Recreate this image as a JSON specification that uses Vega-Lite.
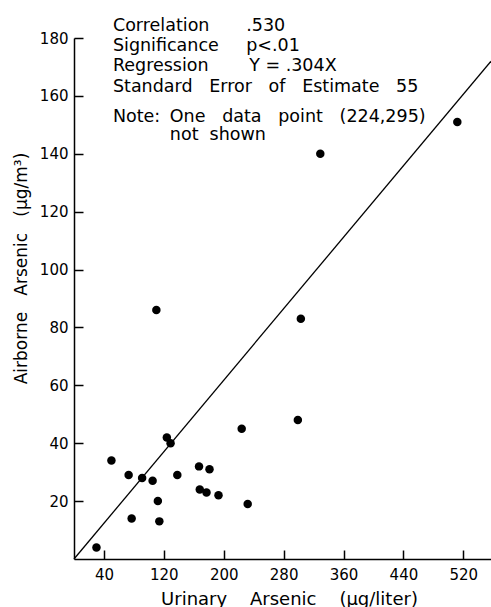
{
  "$schema": "https://vega.github.io/schema/vega-lite/v6.json",
  "width": 417,
  "height": 521,
  "autosize": "none",
  "padding": {"left": 74, "top": 38, "right": 0, "bottom": 48},
  "background": "white",
  "config": {"view": {"stroke": null}, "font": "DejaVu Sans"},
  "layer": [
    {
      "data": {"values": [{"urinary": 0, "airborne": 0}, {"urinary": 557, "airborne": 172}]},
      "mark": {"type": "line", "color": "black", "strokeWidth": 1.3},
      "encoding": {
        "x": {
          "field": "urinary", "type": "quantitative",
          "scale": {"domain": [0, 557], "nice": false, "zero": true},
          "axis": {
            "values": [40, 120, 200, 280, 360, 440, 520],
            "title": "Urinary\u00a0\u00a0\u00a0\u00a0Arsenic\u00a0\u00a0\u00a0\u00a0(µg/liter)",
            "grid": false,
            "domainColor": "black", "domainWidth": 1.5,
            "tickColor": "black", "tickWidth": 1.5, "tickSize": -9,
            "labelPadding": 17, "labelFontSize": 15, "labelColor": "black", "labelFont": "DejaVu Sans", "labelFlush": false,
            "titleFont": "DejaVu Sans", "titleFontSize": 18, "titleFontWeight": "normal", "titleColor": "black",
            "titleX": 215, "titleY": 45, "titleBaseline": "alphabetic", "titleAlign": "center"
          }
        },
        "y": {
          "field": "airborne", "type": "quantitative",
          "scale": {"domain": [0, 180], "nice": false},
          "axis": {
            "values": [20, 40, 60, 80, 100, 120, 140, 160, 180],
            "title": "Airborne\u00a0\u00a0\u00a0Arsenic\u00a0\u00a0\u00a0(µg/m³)",
            "grid": false,
            "domainColor": "black", "domainWidth": 1.5,
            "tickColor": "black", "tickWidth": 1.5, "tickSize": -9,
            "labelPadding": 15, "labelFontSize": 15, "labelColor": "black", "labelFont": "DejaVu Sans", "labelFlush": false,
            "titleFont": "DejaVu Sans", "titleFontSize": 17, "titleFontWeight": "normal", "titleColor": "black",
            "titleX": -48, "titleY": 230, "titleAngle": -90, "titleBaseline": "alphabetic", "titleAlign": "center"
          }
        }
      }
    },
    {
      "data": {"values": [
        {"urinary": 30, "airborne": 4},
        {"urinary": 50, "airborne": 34},
        {"urinary": 73, "airborne": 29},
        {"urinary": 77, "airborne": 14},
        {"urinary": 91, "airborne": 28},
        {"urinary": 105, "airborne": 27},
        {"urinary": 112, "airborne": 20},
        {"urinary": 114, "airborne": 13},
        {"urinary": 124, "airborne": 42},
        {"urinary": 129, "airborne": 40},
        {"urinary": 138, "airborne": 29},
        {"urinary": 167, "airborne": 32},
        {"urinary": 168, "airborne": 24},
        {"urinary": 177, "airborne": 23},
        {"urinary": 181, "airborne": 31},
        {"urinary": 193, "airborne": 22},
        {"urinary": 224, "airborne": 45},
        {"urinary": 232, "airborne": 19},
        {"urinary": 299, "airborne": 48},
        {"urinary": 110, "airborne": 86},
        {"urinary": 303, "airborne": 83},
        {"urinary": 329, "airborne": 140},
        {"urinary": 512, "airborne": 151}
      ]},
      "mark": {"type": "circle", "color": "black", "opacity": 1, "size": 72},
      "encoding": {
        "x": {"field": "urinary", "type": "quantitative"},
        "y": {"field": "airborne", "type": "quantitative"}
      }
    },
    {
      "data": {"values": [
        {"label": "Correlation", "tx": 52, "ty": 182.5},
        {"label": ".530", "tx": 230, "ty": 182.5},
        {"label": "Significance", "tx": 52, "ty": 175.6},
        {"label": "p<.01", "tx": 230, "ty": 175.6},
        {"label": "Regression", "tx": 52, "ty": 168.6},
        {"label": "Y\u00a0=\u00a0.304X", "tx": 234, "ty": 168.6},
        {"label": "Standard\u00a0\u00a0\u00a0Error\u00a0\u00a0\u00a0of\u00a0\u00a0\u00a0Estimate\u00a0\u00a0\u00a055", "tx": 52, "ty": 161.3},
        {"label": "Note:", "tx": 52, "ty": 151.1},
        {"label": "One\u00a0\u00a0\u00a0data\u00a0\u00a0\u00a0point\u00a0\u00a0\u00a0(224,295)", "tx": 128, "ty": 151.1},
        {"label": "not\u00a0\u00a0shown", "tx": 128, "ty": 144.8}
      ]},
      "mark": {"type": "text", "align": "left", "baseline": "alphabetic", "fontSize": 17.5, "font": "DejaVu Sans", "color": "black"},
      "encoding": {
        "x": {"field": "tx", "type": "quantitative"},
        "y": {"field": "ty", "type": "quantitative"},
        "text": {"field": "label"}
      }
    }
  ]
}
